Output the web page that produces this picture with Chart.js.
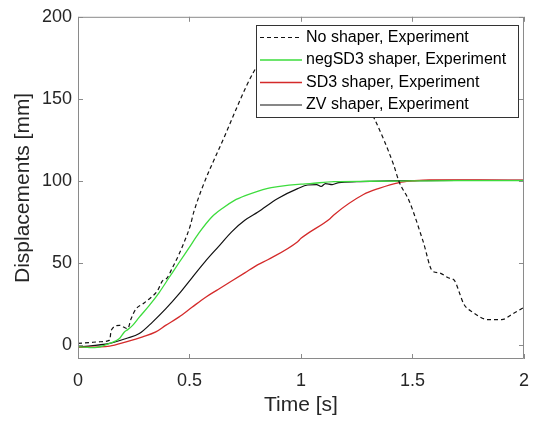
<!DOCTYPE html>
<html>
<head>
<meta charset="utf-8">
<script src="https://cdn.jsdelivr.net/npm/chart.js@4/dist/chart.umd.min.js"></script>
<style>
  html, body { margin: 0; padding: 0; background: #fff; }
</style>
</head>
<body>
<canvas id="dispChart" width="540" height="421"></canvas>
<script>
// Tick values
const xTicks = [0, 0.5, 1, 1.5, 2];
const yTicks = [0, 50, 100, 150, 200];

// No shaper, Experiment (dashed)
const noShaperT = [0, 0.05, 0.1, 0.142, 0.149, 0.186, 0.223, 0.238, 0.26, 0.29, 0.327, 0.356, 0.378, 0.40, 0.423, 0.452, 0.474, 0.504, 0.519, 0.66, 0.79, 0.85, 0.95, 1.05, 1.15, 1.25, 1.33, 1.415, 1.44, 1.486, 1.548, 1.59, 1.62, 1.66, 1.69, 1.71, 1.73, 1.77, 1.84, 1.9, 1.95, 2.0];
const noShaperY = [1, 1.5, 2, 3, 9, 12, 10, 16, 22, 25, 29, 33, 39, 41, 47, 55, 62, 73, 81, 128, 167, 178, 185, 183, 172, 157, 137.6, 110, 99.5, 87.5, 63, 45, 44, 41, 39, 32, 25, 20, 15.5, 15.5, 19, 23];

// negSD3 shaper, Experiment
const negSD3T = [0, 0.075, 0.142, 0.186, 0.208, 0.223, 0.245, 0.275, 0.319, 0.364, 0.408, 0.452, 0.497, 0.541, 0.6, 0.65, 0.7, 0.75, 0.851, 0.896, 1.0, 1.04, 1.147, 1.3, 1.5, 1.7, 2.0];
const negSD3Y = [-1, -1.6, 1, 4, 8, 9.4, 12, 17, 24, 32, 41, 50, 59, 68, 78, 83.5, 88, 91, 95.5, 96.5, 98, 98.3, 99.6, 99.8, 100, 100.2, 100.2];

// SD3 shaper, Experiment
const sd3T = [0, 0.142, 0.216, 0.29, 0.349, 0.393, 0.452, 0.511, 0.571, 0.63, 0.689, 0.748, 0.807, 0.851, 0.985, 1.0, 1.13, 1.15, 1.28, 1.35, 1.44, 1.5, 1.575, 1.8, 2.0];
const sd3Y = [-1.4, -0.6, 2, 5, 8, 12, 17, 23, 29, 34, 39, 44, 49, 52, 63, 65, 77, 79.6, 91.7, 95.5, 99, 100, 100.7, 100.6, 100.5];

// ZV shaper, Experiment
const zvT = [0, 0.142, 0.216, 0.275, 0.334, 0.393, 0.452, 0.511, 0.571, 0.63, 0.689, 0.748, 0.807, 0.896, 0.985, 1.03, 1.07, 1.09, 1.11, 1.14, 1.17, 1.25, 1.4, 1.7, 2.0];
const zvY = [-1.2, 1, 4, 7, 14, 22, 31, 41, 51, 60, 69, 76, 81, 89.3, 95.3, 97.5, 97.7, 96.6, 98.4, 97.8, 99, 99.5, 100, 100.3, 100.3];

const toPoints = (ts, ys) => ts.map((t, i) => ({ x: t, y: ys[i] }));

const tickFont = { family: "'Liberation Sans', Arial, sans-serif", size: 18 };
const titleFont = { family: "'Liberation Sans', Arial, sans-serif", size: 21 };
const textColor = "#262626";
const axisColor = "#8a8a8a";

// MATLAB style box with inward ticks + opaque legend
const boxPlugin = {
  id: "matlabBox",
  afterDatasetsDraw(chart) {
    const { ctx, chartArea: a, scales } = chart;
    ctx.save();
    ctx.strokeStyle = axisColor;
    ctx.lineWidth = 1;
    ctx.beginPath();
    ctx.rect(a.left + 0.5, a.top + 0.5, a.right - a.left - 1, a.bottom - a.top - 1);
    const len = 5;
    xTicks.forEach(v => {
      const px = Math.round(scales.x.getPixelForValue(v)) + 0.5;
      ctx.moveTo(px, a.bottom); ctx.lineTo(px, a.bottom - len);
      ctx.moveTo(px, a.top); ctx.lineTo(px, a.top + len);
    });
    yTicks.forEach(v => {
      const py = Math.round(scales.y.getPixelForValue(v)) + 0.5;
      ctx.moveTo(a.left, py); ctx.lineTo(a.left + len, py);
      ctx.moveTo(a.right, py); ctx.lineTo(a.right - len, py);
    });
    ctx.stroke();

    // legend box
    const lx = 256, ly = 25, lw = 262, lh = 92;
    ctx.fillStyle = "#fff";
    ctx.fillRect(lx, ly, lw, lh);
    ctx.strokeStyle = "#333";
    ctx.strokeRect(lx + 0.5, ly + 0.5, lw, lh);
    ctx.font = "16px 'Liberation Sans', Arial, sans-serif";
    ctx.textBaseline = "middle";
    ctx.textAlign = "left";
    chart.data.datasets.forEach((ds, i) => {
      const ry = ly + 12.5 + i * 22.5;
      ctx.beginPath();
      ctx.strokeStyle = ds.borderColor;
      ctx.lineWidth = ds.borderWidth;
      ctx.setLineDash(ds.borderDash || []);
      ctx.moveTo(lx + 4, ry); ctx.lineTo(lx + 46, ry);
      ctx.stroke();
      ctx.setLineDash([]);
      ctx.fillStyle = "#000";
      ctx.fillText(ds.label, lx + 50, ry);
    });
    ctx.restore();
  }
};

const config = {
  type: "line",
  data: {
    datasets: [
      { label: "No shaper, Experiment", data: toPoints(noShaperT, noShaperY), borderColor: "#111", borderWidth: 1.2, borderDash: [4, 3], cubicInterpolationMode: "monotone" },
      { label: "negSD3 shaper, Experiment", data: toPoints(negSD3T, negSD3Y), borderColor: "#3ddc3d", borderWidth: 1.3, cubicInterpolationMode: "monotone" },
      { label: "SD3 shaper, Experiment", data: toPoints(sd3T, sd3Y), borderColor: "#d42a2a", borderWidth: 1.3, cubicInterpolationMode: "monotone" },
      { label: "ZV shaper, Experiment", data: toPoints(zvT, zvY), borderColor: "#111", borderWidth: 1.2, cubicInterpolationMode: "monotone" }
    ]
  },
  options: {
    responsive: false,
    animation: false,
    elements: { point: { radius: 0 }, line: { fill: false } },
    layout: { padding: { top: 14, right: 11, left: 0, bottom: 0 } },
    plugins: { legend: { display: false }, tooltip: { enabled: false } },
    scales: {
      x: {
        type: "linear",
        min: 0,
        max: 2,
        afterBuildTicks: s => { s.ticks = xTicks.map(v => ({ value: v })); },
        afterFit: s => { s.height = 62; },
        grid: { display: false, drawTicks: false },
        border: { display: false },
        ticks: { font: tickFont, color: textColor, padding: 11, maxRotation: 0, autoSkip: false, callback: v => String(v) },
        title: { display: true, text: "Time [s]", font: titleFont, color: textColor, padding: { top: 0, bottom: 3 } }
      },
      y: {
        type: "linear",
        min: -8.5,
        max: 200,
        afterBuildTicks: s => { s.ticks = yTicks.map(v => ({ value: v })); },
        afterFit: s => { s.width = 78; },
        grid: { display: false, drawTicks: false },
        border: { display: false },
        ticks: { font: tickFont, color: textColor, padding: 6, autoSkip: false, callback: v => String(v) },
        title: { display: true, text: "Displacements [mm]", font: titleFont, color: textColor, padding: { top: 11, bottom: 0 } }
      }
    }
  },
  plugins: [boxPlugin]
};

new Chart(document.getElementById("dispChart"), config);
</script>
</body>
</html>
